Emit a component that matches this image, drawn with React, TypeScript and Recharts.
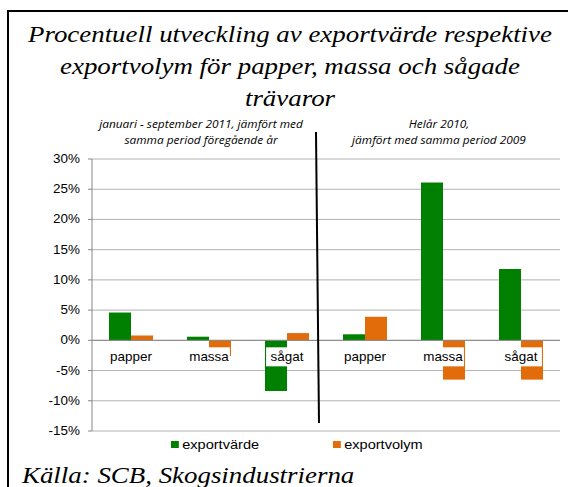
import React from 'react';
import { BarChart, Bar, XAxis, YAxis, CartesianGrid, ReferenceLine, ReferenceDot } from 'recharts';

const CATEGORIES = ['papper', 'massa', 'sågat', 'papper', 'massa', 'sågat'];
const EXPORTVARDE = [4.6, 0.6, -8.4, 1.0, 26.1, 11.8];
const EXPORTVOLYM = [0.8, -2.6, 1.2, 3.9, -6.5, -6.5];
const Y_TICKS = [-15, -10, -5, 0, 5, 10, 15, 20, 25, 30];
const SERIES = [
  { key: 'exportvarde', name: 'exportvärde', color: '#008000' },
  { key: 'exportvolym', name: 'exportvolym', color: '#E36C0A' },
];

const data = CATEGORIES.map((cat, i) => ({
  id: `c${i}`,
  cat,
  exportvarde: EXPORTVARDE[i],
  exportvolym: EXPORTVOLYM[i],
}));

const SX = 1.12; // source picture is stretched a bit horizontally

const YTick = (props: any) => {
  const { x, y, payload } = props;
  return (
    <text
      x={x}
      y={y}
      dy={4}
      textAnchor="end"
      fontSize={12}
      fontFamily="Liberation Sans, Arial, sans-serif"
      fill="#000"
      transform={`translate(${x} 0) scale(${SX} 1) translate(${-x} 0)`}
    >
      {payload.value}%
    </text>
  );
};

const CatLabel = (text: string) => (props: any) => {
  const vb = props.viewBox || {};
  const cx = vb.x + (vb.width || 0) / 2;
  const cy = vb.y + (vb.height || 0) / 2;
  const w = text.length * 6.4 * SX + 6;
  return (
    <g>
      <rect x={cx - w / 2} y={cy + 7} width={w} height={19} fill="#fff" />
      <text
        x={cx}
        y={cy + 21}
        textAnchor="middle"
        fontSize={12}
        fontFamily="Liberation Sans, Arial, sans-serif"
        fill="#000"
        transform={`translate(${cx} 0) scale(${SX} 1) translate(${-cx} 0)`}
      >
        {text}
      </text>
    </g>
  );
};

const serif = '"Liberation Serif", "Times New Roman", serif';
const subFont = '"Open Sans", "Liberation Sans", sans-serif';

const Centered: React.FC<{ cx: number; top: number; style: React.CSSProperties; children: React.ReactNode }> = ({ cx, top, style, children }) => (
  <div
    style={{
      position: 'absolute',
      left: cx - 300,
      top,
      width: 600,
      textAlign: 'center',
      whiteSpace: 'nowrap',
      transform: `scaleX(${SX})`,
      ...style,
    }}
  >
    {children}
  </div>
);

export default function App() {
  return (
    <div style={{ position: 'fixed', left: 0, top: 0, width: 568, height: 487, overflow: 'hidden', background: '#fff' }}>
      <div style={{ position: 'absolute', left: 7, top: 10, width: 600, height: 600, borderLeft: '2px solid #000', borderTop: '2px solid #000' }} />

      <Centered cx={290} top={18} style={{ fontFamily: serif, fontStyle: 'italic', fontSize: 24, lineHeight: '32px', color: '#000' }}>
        Procentuell utveckling av exportvärde respektive
        <br />
        exportvolym för papper, massa och sågade
        <br />
        trävaror
      </Centered>

      <Centered cx={201} top={116} style={{ fontFamily: subFont, fontStyle: 'italic', fontSize: 10.6, lineHeight: '16px', color: '#000' }}>
        januari - september 2011, jämfört med
        <br />
        samma period föregående år
      </Centered>
      <Centered cx={439} top={116} style={{ fontFamily: subFont, fontStyle: 'italic', fontSize: 10.6, lineHeight: '16px', color: '#000' }}>
        Helår 2010,
        <br />
        jämfört med samma period 2009
      </Centered>

      <div style={{ position: 'absolute', left: 0, top: 0 }}>
        <BarChart width={568} height={487} data={data} margin={{ top: 159, right: 8, bottom: 55, left: 32 }} barCategoryGap={17} barGap={0}>
          <CartesianGrid vertical={false} stroke="#b3b3b3" />
          <XAxis dataKey="id" tick={false} tickLine={false} height={1} axisLine={{ stroke: '#d9d9d9', strokeWidth: 2 }} />
          <YAxis
            domain={[-15, 30]}
            ticks={Y_TICKS}
            interval={0}
            width={60}
            tick={<YTick />}
            tickSize={4}
            tickMargin={8}
            axisLine={{ stroke: '#868686' }}
            tickLine={{ stroke: '#868686' }}
          />
          {SERIES.map((s) => (
            <Bar key={s.key} dataKey={s.key} name={s.name} fill={s.color} isAnimationActive={false} />
          ))}
          <ReferenceLine y={0} stroke="#868686" />
          {data.map((d) => (
            <ReferenceDot key={d.id} x={d.id} y={0} r={0} fill="none" stroke="none" label={{ content: CatLabel(d.cat) }} />
          ))}
        </BarChart>
      </div>

      <svg style={{ position: 'absolute', left: 0, top: 0 }} width={568} height={487}>
        <line x1={316} y1={132} x2={319} y2={423} stroke="#000" strokeWidth={2} />
      </svg>

      {SERIES.map((s, i) => (
        <div
          key={s.key}
          style={{
            position: 'absolute',
            left: i === 0 ? 171 : 333,
            top: 437,
            display: 'flex',
            alignItems: 'center',
            fontFamily: '"Liberation Sans", Arial, sans-serif',
            fontSize: 13,
            color: '#000',
            transformOrigin: 'left center',
            transform: `scaleX(${SX})`,
          }}
        >
          <span style={{ display: 'inline-block', width: 7, height: 7, background: s.color, marginRight: 3 }} />
          {s.name}
        </div>
      ))}

      <div
        style={{
          position: 'absolute',
          left: 22,
          top: 459,
          fontFamily: serif,
          fontStyle: 'italic',
          fontSize: 24,
          lineHeight: '32px',
          whiteSpace: 'nowrap',
          transformOrigin: 'left top',
          transform: `scaleX(${SX})`,
          color: '#000',
        }}
      >
        Källa: SCB, Skogsindustrierna
      </div>
    </div>
  );
}
